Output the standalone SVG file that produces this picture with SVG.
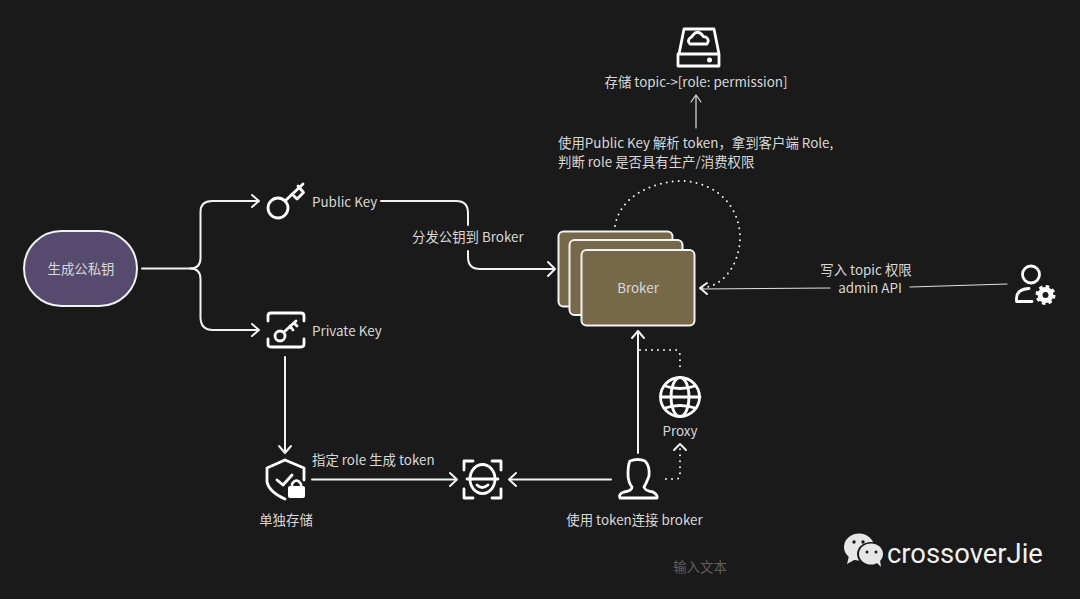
<svg xmlns="http://www.w3.org/2000/svg" width="1080" height="599" viewBox="0 0 1080 599">
<defs>
<style>
text{font-family:"Noto Sans CJK SC","Noto Sans",sans-serif;font-size:13.4px;fill:#d8d8d8}
.m{text-anchor:middle}
.l{fill:none;stroke:#f2f2f2;stroke-width:2;stroke-linecap:round;stroke-linejoin:round}
.t{fill:none;stroke:#e0e0e0;stroke-width:1.2;stroke-linecap:round;stroke-linejoin:round}
.d{fill:none;stroke:#f2f2f2;stroke-width:2;stroke-linecap:round;stroke-dasharray:0 6}
.i{fill:none;stroke:#fff;stroke-width:2.800;stroke-linecap:round;stroke-linejoin:round}
.b{fill:#76694a;stroke:#f2f2f2;stroke-width:2}
</style>
</defs>
<rect width="1080" height="599" fill="#1a1a1a"/>
<g id="connectors">
<path class="l" d="M142 268.500H190Q200.500 268.500 200.500 258V212Q200.500 201 212 201H258"/>
<path class="l" d="M252 195L259 201L252 207"/>
<path class="l" d="M190 268.500Q200.500 268.500 200.500 279V317Q200.500 330 213 330H258"/>
<path class="l" d="M252 324L259 330L252 336"/>
<path class="l" d="M381 201H456Q468 201 468 213V225M468 251V257Q468 269 480 269H554"/>
<path class="l" d="M548 262L555 269L548 276"/>
<path class="l" d="M285 357V452"/>
<path class="l" d="M279 446L285 453L291 446"/>
<path class="l" d="M312 479.500H456"/>
<path class="l" d="M450 473L457 479.500L450 486"/>
<path class="l" d="M611 479.500H510"/>
<path class="l" d="M516 473L509 479.500L516 486"/>
<path class="l" d="M638 453V331"/>
<path class="l" d="M632 338L638 331L644 338"/>
<path class="d" d="M640 350H675Q680 350 680 356V371"/>
<path class="d" d="M666 479H676Q680 479 680 475V447"/>
<path class="l" d="M674 450L680 444L686 450"/>
<path class="d" d="M615 226C620 195 655 181 683 181C720 183 741 210 740 240C738 268 722 286 702 288"/>
<path class="l" d="M707 283L700 288L707 294"/>
<path class="t" d="M696 128V96"/>
<path class="t" d="M691 102L696 95L701 102"/>
<path class="t" d="M1007 284L910 287M830 288L700 289"/>
</g>
<g id="node-generate">
<rect x="24" y="231" width="113" height="75" rx="37.500" fill="#564a6e" stroke="#f2f2f2" stroke-width="2"/>
<text class="m" x="81" y="274">生成公私钥</text>
</g>
<g id="node-public-key">
<circle class="i" cx="278" cy="208" r="10"/>
<path class="i" d="M285 201L303 184M292 194L297 199L303.500 192.500L298 186"/>
<text x="312" y="207">Public Key</text>
</g>
<g id="node-private-key">
<path class="i" d="M268 321V316Q268 313 271 313H301Q304 313 304 316V321M268 339V344Q268 347 271 347H301Q304 347 304 344V339"/>
<circle class="i" cx="280" cy="336" r="5"/>
<path class="i" d="M284 332L296 321M290 326L293 330M294 323L297 326"/>
<text x="312" y="336">Private Key</text>
</g>
<g id="node-storage">
<path class="i" stroke-width="3" d="M285 460L304 468V480M285 460L267 468V482Q269 492 285 499"/>
<path class="i" stroke-width="3" d="M277 480L283 485L292 475"/>
<rect x="288" y="486" width="17" height="12" rx="2" fill="#fff"/>
<path fill="none" stroke="#fff" stroke-width="2.500" d="M292 487V484Q296.500 477 301 484V487"/>
<text class="m" x="286" y="525">单独存储</text>
</g>
<g id="node-token-label">
<text x="312" y="465">指定 role 生成 token</text>
</g>
<g id="node-distribute-label">
<text x="412" y="242">分发公钥到 Broker</text>
</g>
<g id="node-face">
<path class="i" d="M464 470V461H473M492 461H501V470M464 489V498H473M492 498H501V489"/>
<ellipse class="i" cx="482.500" cy="479" rx="12.500" ry="14.500"/>
<path class="i" d="M467 479H498M477 485Q482 490 488 485"/>
</g>
<g id="node-broker">
<rect class="b" x="558.500" y="231.500" width="114" height="75" rx="5"/>
<rect class="b" x="569.500" y="240" width="113" height="75" rx="5"/>
<rect class="b" x="581.500" y="250" width="113" height="75.500" rx="5"/>
<text class="m" x="638" y="293">Broker</text>
</g>
<g id="node-top-storage">
<path class="i" d="M679 54L684 29H714L719 54H679ZM678 54H719V66H678Z"/>
<path class="i" d="M690 44H707Q710 40 706 37Q703 37 703 36Q698 29 693 35Q692 37 690 38Q687 41 690 44Z" stroke-width="2"/>
<circle cx="709.500" cy="60" r="2.500" fill="#fff"/>
<text class="m" x="696" y="87">存储 topic-&gt;[role: permission]</text>
</g>
<g id="node-parse-label">
<text x="558" y="148">使用Public Key 解析 token，拿到客户端 Role,</text>
<text x="558" y="167">判断 role 是否具有生产/消费权限</text>
</g>
<g id="node-proxy">
<circle class="i" cx="680" cy="397" r="19.500"/>
<ellipse class="i" cx="680" cy="397" rx="9" ry="19.500"/>
<path class="i" d="M661 397H700M665 386Q680 391 695 386M665 408Q680 403 695 408"/>
<text class="m" x="680" y="436">Proxy</text>
</g>
<g id="node-client">
<path class="i" d="M630 461Q638 458 645 461Q650 466 649 476Q646 484 644 487Q645 491 653 492Q658 495 657 498H620Q618 494 624 492Q632 491 632 487Q628 482 628 474Q628 465 630 461Z"/>
<text class="m" x="634.500" y="525">使用 token连接 broker</text>
</g>
<g id="node-admin">
<text class="m" x="866" y="275">写入 topic 权限</text>
<text class="m" x="870" y="293">admin API</text>
<circle class="i" cx="1031" cy="274.500" r="8.500" stroke-width="3.800"/>
<path class="i" stroke-width="3.800" d="M1032 301.500H1016.500V298Q1017 289 1029 288.500"/>
<circle cx="1045.500" cy="295" r="5.500" fill="none" stroke="#fff" stroke-width="5"/>
<circle cx="1045.500" cy="295" r="8.500" fill="none" stroke="#fff" stroke-width="3" stroke-dasharray="3.500 3.170"/>
</g>
<g id="note">
<text class="m" x="700" y="572" style="fill:#5f5f5f">输入文本</text>
</g>
<g id="watermark">
<ellipse cx="859" cy="547" rx="15" ry="13.500" fill="#e6e6e6"/>
<path d="M849 556L847 564L856 559Z" fill="#e6e6e6"/>
<ellipse cx="871" cy="554" rx="14" ry="12" fill="#1a1a1a"/>
<ellipse cx="871" cy="554" rx="12" ry="10.500" fill="#e6e6e6"/>
<path d="M876 562L881 567L880 560Z" fill="#e6e6e6"/>
<circle cx="854" cy="542" r="1.700" fill="#1a1a1a"/><circle cx="863" cy="542" r="1.700" fill="#1a1a1a"/>
<circle cx="867" cy="552" r="1.500" fill="#1a1a1a"/><circle cx="876" cy="552" r="1.500" fill="#1a1a1a"/>
<text x="887" y="563" style="font-family:Roboto,'Noto Sans',sans-serif;font-size:27.400px;fill:#f0f0f0">crossoverJie</text>
</g>
</svg>
